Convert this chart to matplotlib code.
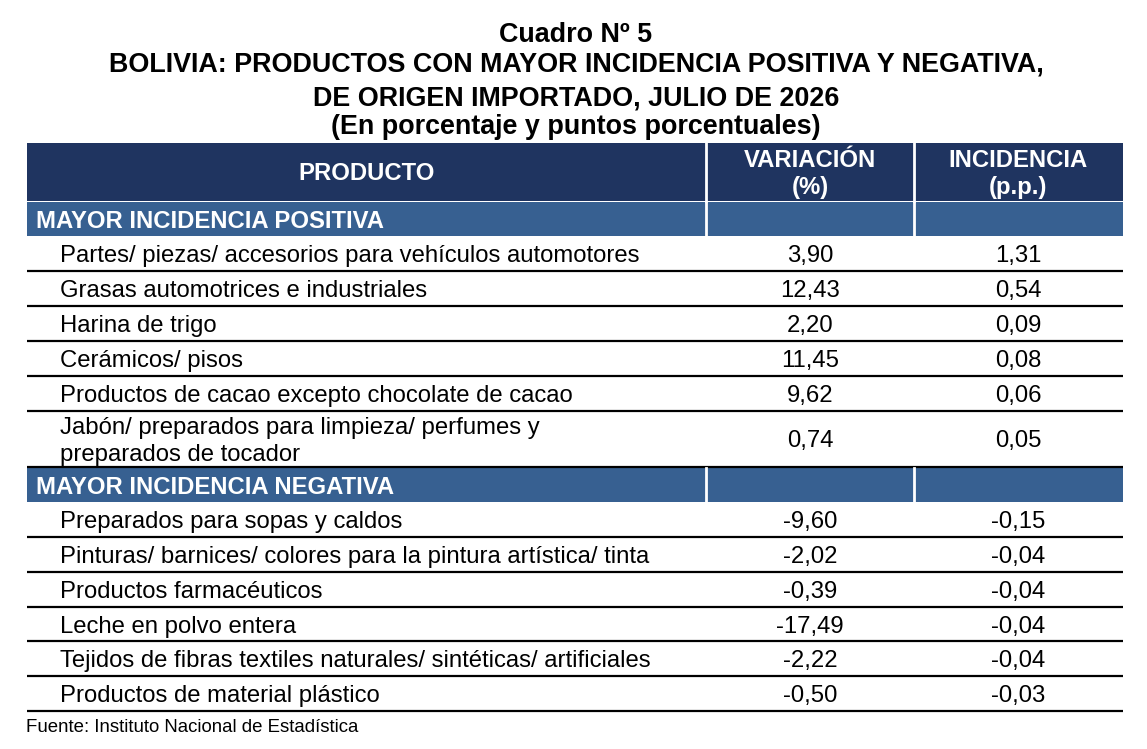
import matplotlib
matplotlib.use("Agg")
import matplotlib.pyplot as plt
from matplotlib.patches import Rectangle

plt.rcParams['font.family'] = ['Liberation Sans', 'DejaVu Sans']

titles = ["Cuadro Nº 5",
          "BOLIVIA: PRODUCTOS CON MAYOR INCIDENCIA POSITIVA Y NEGATIVA,",
          "DE ORIGEN IMPORTADO, JULIO DE 2026",
          "(En porcentaje y puntos porcentuales)"]
headers = ["PRODUCTO", "VARIACIÓN\n(%)", "INCIDENCIA\n(p.p.)"]

sec_pos = "MAYOR INCIDENCIA POSITIVA"
pos_products = ["Partes/ piezas/ accesorios para vehículos automotores",
                "Grasas automotrices e industriales",
                "Harina de trigo",
                "Cerámicos/ pisos",
                "Productos de cacao excepto chocolate de cacao",
                "Jabón/ preparados para limpieza/ perfumes y\npreparados de tocador"]
pos_var = [3.90, 12.43, 2.20, 11.45, 9.62, 0.74]
pos_inc = [1.31, 0.54, 0.09, 0.08, 0.06, 0.05]

sec_neg = "MAYOR INCIDENCIA NEGATIVA"
neg_products = ["Preparados para sopas y caldos",
                "Pinturas/ barnices/ colores para la pintura artística/ tinta",
                "Productos farmacéuticos",
                "Leche en polvo entera",
                "Tejidos de fibras textiles naturales/ sintéticas/ artificiales",
                "Productos de material plástico"]
neg_var = [-9.60, -2.02, -0.39, -17.49, -2.22, -0.50]
neg_inc = [-0.15, -0.04, -0.04, -0.04, -0.04, -0.03]

source = "Fuente: Instituto Nacional de Estadística"

dark = "#1f3460"
mid = "#376091"


def fmt(v):
    return f"{v:.2f}".replace(".", ",")


W, H = 1147, 749
fig = plt.figure(figsize=(W / 100, H / 100), dpi=100)
ax = fig.add_axes([0, 0, 1, 1])
ax.set_xlim(0, W)
ax.set_ylim(H, 0)
ax.axis("off")

x0, x1, x2, x3 = 27, 706, 914, 1123
cols = [(x0, x1), (x1, x2), (x2, x3)]
fs = 17.2
lead = 27.5


def put(x, yc, s, ha="center", **kw):
    # place (possibly multi-line) text with caps centred on yc
    lines = s.split("\n")
    n = len(lines)
    for k, ln in enumerate(lines):
        yb = yc + (k - (n - 1) / 2) * lead + 8.5
        ax.text(x, yb, ln, ha=ha, va="baseline", fontsize=fs, **kw)


title_base = [42, 72, 105, 134]
for t, yb in zip(titles, title_base):
    ax.text(576, yb, t, ha="center", va="baseline", fontsize=19.4,
            fontweight="bold")

# header
top, hdr_h = 143, 58
for j, (a, b) in enumerate(cols):
    ax.add_patch(Rectangle((a, top), b - a, hdr_h, color=dark, lw=0))
    put((a + b) / 2, top + hdr_h / 2, headers[j], fontweight="bold",
        color="white")
for xv in (x1, x2):
    ax.plot([xv, xv], [top, top + hdr_h], color="white", lw=2)

row_h = 34.85


def section(y, label):
    h = 34
    ax.add_patch(Rectangle((x0, y), x3 - x0, h, color=mid, lw=0))
    for xv in (x1, x2):
        ax.plot([xv, xv], [y, y + h], color="white", lw=2)
    put(x0 + 9, y + h / 2, label, ha="left", fontweight="bold",
        color="white")
    return y + h


def rows(y, prods, var, inc):
    for p, v, c in zip(prods, var, inc):
        h = row_h + lead * p.count("\n") * 0.78
        yc = y + h / 2
        put(60, yc, p, ha="left")
        put((x1 + x2) / 2, yc, fmt(v))
        put((x2 + x3) / 2, yc, fmt(c))
        y += h
        ax.plot([x0, x3], [y, y], color="black", lw=1.6,
                solid_capstyle="butt")
    return y


y = section(top + hdr_h + 1, sec_pos)
y = rows(y + 0.5, pos_products, pos_var, pos_inc)
y = section(y + 1, sec_neg)
y = rows(y, neg_products, neg_var, neg_inc)

ax.text(x0 - 1, 732, source, ha="left", va="baseline", fontsize=13.4)

fig.savefig("out.png", dpi=100)
